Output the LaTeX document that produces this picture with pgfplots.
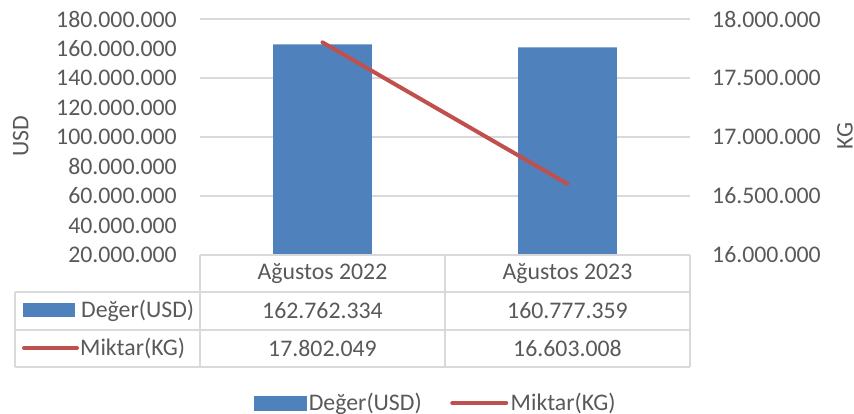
\documentclass[border=0pt]{standalone}
\usepackage{pgfplots}
\pgfplotsset{compat=1.18}
\usepackage{fontspec}
\setmainfont{Carlito}
\definecolor{txt}{HTML}{595959}
\definecolor{barblue}{HTML}{4F81BD}
\definecolor{linered}{HTML}{C0504D}
\definecolor{gridgray}{HTML}{D9D9D9}
\newcommand{\chartfont}{\fontsize{23.8bp}{28bp}\selectfont}
\pgfplotsset{
  common/.style={
    scale only axis, width=490bp, height=236bp,
    xmin=-0.5, xmax=1.5,
    major tick length=0, minor tick num=0,
    axis line style={draw=none},
    scaled y ticks=false,
    /pgf/number format/assume math mode=true,
    /pgf/number format/fixed,
    /pgf/number format/precision=0,
    /pgf/number format/1000 sep={.},
    tick label style={text=txt, font=\chartfont},
    label style={text=txt, font=\chartfont},
  }
}
\begin{document}
\begin{tikzpicture}[font=\chartfont, text=txt]
% grid axis (right scale)
\begin{axis}[common,
  ymin=16000000, ymax=18000000,
  ytick={16000000,16500000,17000000,17500000,18000000},
  yticklabels={}, xtick=\empty,
  ymajorgrids, major grid style={gridgray, line width=1.5bp},
]
\addplot[draw=none] coordinates {(0,17000000)};
\end{axis}
% bars (left scale)
\begin{axis}[common,
  ymin=20000000, ymax=180000000,
  ytick={20000000,40000000,60000000,80000000,100000000,120000000,140000000,160000000,180000000},
  yticklabel style={anchor=east, inner sep=0pt, xshift=-23bp},
  xtick={0,1}, xticklabels={Ağustos 2022, Ağustos 2023},
  xticklabel style={anchor=center, inner sep=0pt, yshift=-18.5bp},
  ylabel={USD},
  ylabel style={at={(axis description cs:-0.366,0.504)}, anchor=center, rotate=0},
]
\addplot[ybar, bar width=0.404, fill=barblue, draw=none] coordinates {(0,162762334) (1,160777359)};
\end{axis}
% line (right scale)
\begin{axis}[common,
  ymin=16000000, ymax=18000000,
  ytick={16000000,16500000,17000000,17500000,18000000},
  yticklabel pos=right,
  yticklabel style={anchor=west, inner sep=0pt, xshift=22bp},
  xtick=\empty,
  ylabel={KG},
  ylabel style={at={(axis description cs:1.3163,0.504)}, anchor=center, rotate=0},
  legend columns=2,
  legend style={at={(axis description cs:0.4816,-0.627)}, anchor=center,
    draw=none, fill=none, inner sep=0pt,
    nodes={inner sep=2.5bp, text=txt, font=\chartfont},
    /tikz/every even column/.append style={column sep=26bp}},
  legend cell align=left,
]
\addlegendimage{legend image code/.code={\fill[barblue] (0bp,-7bp) rectangle (52bp,7bp);}}
\addlegendentry{Değer(USD)}
\addplot[linered, line width=4bp, line cap=round,
  legend image code/.code={\draw[linered, line width=4bp, line cap=round] (2bp,0bp) -- (56bp,0bp);}]
  coordinates {(0,17802049) (1,16603008)};
\addlegendentry{Miktar(KG)}
\end{axis}
% data table
\begin{scope}[gridgray, line width=1.5bp]
\draw (0,0) -- (490bp,0);
\draw (0,0) -- (0,-112bp);
\draw (245bp,0) -- (245bp,-112bp);
\draw (490bp,0) -- (490bp,-112bp);
\draw (-185bp,-37bp) -- (490bp,-37bp);
\draw (-185bp,-75bp) -- (490bp,-75bp);
\draw (-185bp,-112bp) -- (490bp,-112bp);
\draw (-185bp,-37bp) -- (-185bp,-112bp);
\end{scope}
\node[text=txt, inner sep=0pt] at (122.5bp,-56bp) {162.762.334};
\node[text=txt, inner sep=0pt] at (367.5bp,-56bp) {160.777.359};
\node[text=txt, inner sep=0pt] at (122.5bp,-93.5bp) {17.802.049};
\node[text=txt, inner sep=0pt] at (367.5bp,-93.5bp) {16.603.008};
\fill[barblue] (-177bp,-48bp) rectangle (-125bp,-62bp);
\node[text=txt, inner sep=0pt, anchor=west] at (-119bp,-56bp) {Değer(USD)};
\draw[linered, line width=4bp, line cap=round] (-176bp,-93bp) -- (-123bp,-93bp);
\node[text=txt, inner sep=0pt, anchor=west] at (-120bp,-93.5bp) {Miktar(KG)};
\pgfresetboundingbox
\path[use as bounding box] (-200bp,-159bp) rectangle (654bp,255bp);
\end{tikzpicture}
\end{document}
